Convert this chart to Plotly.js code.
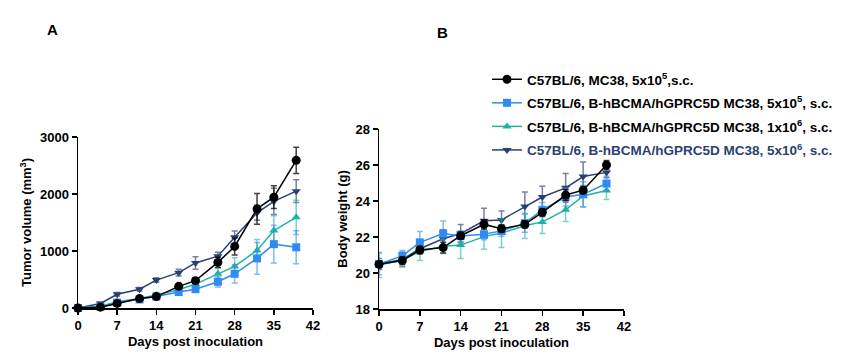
<!DOCTYPE html>
<html><head><meta charset="utf-8">
<script src="https://cdn.plot.ly/plotly-3.0.1.min.js"></script>
<style>body{margin:0;background:#fff}#chart{width:844px;height:361px}</style>
</head><body><div id="chart"></div>
<script>
const days = [0, 4, 7, 11, 14, 18, 21, 25, 28, 32, 35, 39];

const seriesNames = [
  'C57BL/6, MC38, 5x10<sup>5</sup>,s.c.',
  'C57BL/6, B-hBCMA/hGPRC5D MC38, 5x10<sup>5</sup>, s.c.',
  'C57BL/6, B-hBCMA/hGPRC5D MC38, 1x10<sup>6</sup>, s.c.',
  '<span style="color:#2B3F72">C57BL/6, B-hBCMA/hGPRC5D MC38, 5x10<sup>6</sup>, s.c.</span>'
];

// Panel A: tumor volume (mm3)
const volBlack = [0, 15, 80, 165, 200, 380, 480, 800, 1080, 1740, 1945, 2590];
const volBlue  = [0, 20, 95, 150, 200, 280, 330, 460, 600, 870, 1120, 1065];
const volTeal  = [0, 30, 110, 165, 230, 320, 420, 600, 730, 1010, 1360, 1590];
const volNavy  = [0, 80, 240, 330, 490, 620, 790, 910, 1240, 1670, 1870, 2050];
const volErrBlack = [0, 10, 20, 30, 30, 40, 50, 90, 150, 270, 200, 230];
const volErrBlue  = [0, 10, 20, 30, 30, 40, 50, 90, 160, 280, 330, 290];
const volErrTeal  = [0, 10, 20, 30, 40, 40, 60, 100, 150, 190, 260, 300];
const volErrNavy  = [0, 20, 30, 30, 40, 60, 110, 70, 110, 130, 230, 200];

// Panel B: body weight (g)
const bwBlack = [20.48, 20.69, 21.28, 21.41, 22.07, 22.7, 22.46, 22.7, 23.37, 24.33, 24.6, 26.0];
const bwBlue  = [20.5, 20.95, 21.7, 22.19, 22.05, 22.15, 22.34, 22.77, 23.51, 24.22, 24.37, 24.97];
const bwTeal  = [20.45, 20.7, 21.2, 21.48, 21.55, 22.02, 22.22, 22.62, 22.84, 23.51, 24.28, 24.58];
const bwNavy  = [20.5, 20.75, 21.35, 21.9, 22.19, 22.9, 22.95, 23.7, 24.22, 24.73, 25.36, 25.59];
const bwErrBlack = [0.2, 0.2, 0.2, 0.3, 0.2, 0.25, 0.2, 0.2, 0.2, 0.3, 0.2, 0.25];
const bwErrBlue  = [0.6, 0.3, 0.6, 0.7, 0.3, 0.3, 0.3, 0.5, 0.4, 0.5, 0.7, 0.4];
const bwErrTeal  = [0.7, 0.3, 0.5, 0.4, 0.75, 0.7, 0.8, 0.7, 0.65, 0.65, 0.6, 0.5];
const bwErrNavy  = [0.3, 0.4, 0.3, 0.5, 0.5, 0.7, 0.5, 0.8, 0.6, 0.8, 0.8, 0.3];

const colors = ['#000000', '#2F8BF2', '#1FB3A6', '#2B3F72'];
const errColors = ['rgba(0,0,0,0.75)', 'rgba(47,139,242,0.6)', 'rgba(31,179,166,0.6)', 'rgba(43,63,114,0.65)'];
const symbols = ['circle', 'square', 'triangle-up', 'triangle-down'];
const sizes = [9, 8, 8, 8];

const volData = [volBlack, volBlue, volTeal, volNavy];
const volErr = [volErrBlack, volErrBlue, volErrTeal, volErrNavy];
const bwData = [bwBlack, bwBlue, bwTeal, bwNavy];
const bwErr = [bwErrBlack, bwErrBlue, bwErrTeal, bwErrNavy];

const order = [3, 2, 1, 0]; // draw black on top
const traces = [];
order.forEach(i => {
  traces.push({
    x: days, y: volData[i], xaxis: 'x', yaxis: 'y', type: 'scatter', mode: 'lines+markers',
    name: seriesNames[i], showlegend: false, cliponaxis: false,
    line: {color: colors[i], width: 1.5},
    marker: {color: colors[i], symbol: symbols[i], size: sizes[i]},
    error_y: {type: 'data', array: volErr[i], visible: true, color: errColors[i], thickness: 1.5, width: 3}
  });
});
order.forEach(i => {
  traces.push({
    x: days, y: bwData[i], xaxis: 'x2', yaxis: 'y2', type: 'scatter', mode: 'lines+markers',
    name: seriesNames[i], showlegend: true, cliponaxis: false, legendrank: i + 1, legendgroup: 'g' + i,
    line: {color: colors[i], width: 1.5},
    marker: {color: colors[i], symbol: symbols[i], size: sizes[i]},
    error_y: {type: 'data', array: bwErr[i], visible: true, color: errColors[i], thickness: 1.5, width: 3}
  });
});

const fam = 'Liberation Sans, Arial, sans-serif';
const boldFont = (s) => ({family: fam, size: s, color: '#000', weight: 'bold'});
function axis(extra) {
  return Object.assign({
    showgrid: false, zeroline: false, showline: true, linecolor: '#000', linewidth: 1.5,
    ticks: 'outside', ticklen: 5, tickwidth: 1.5, tickcolor: '#000',
    tickfont: boldFont(13), fixedrange: true
  }, extra);
}

const layout = {
  width: 844, height: 361,
  margin: {l: 0, r: 0, t: 0, b: 0},
  paper_bgcolor: '#fff', plot_bgcolor: '#fff',
  font: {family: fam, size: 12, color: '#000'},
  showlegend: true,
  legend: {
    x: 487/844, y: 1 - 64/361, xanchor: 'left', yanchor: 'top',
    font: boldFont(13.5),
    bgcolor: 'rgba(0,0,0,0)', itemwidth: 30, tracegroupgap: 3, traceorder: 'grouped'
  },
  xaxis: axis({domain: [78/844, 313/844], range: [0, 42], tickvals: [0, 7, 14, 21, 28, 35, 42], anchor: 'y',
    title: {text: 'Days post inoculation', font: boldFont(13), standoff: 5}}),
  yaxis: axis({domain: [1 - 308/361, 1 - 137/361], range: [0, 3000], tickvals: [0, 1000, 2000, 3000], anchor: 'x',
    title: {text: 'Tumor volume (mm<sup>3</sup>)', font: boldFont(13), standoff: 5}}),
  xaxis2: axis({domain: [379/844, 624/844], range: [0, 42], tickvals: [0, 7, 14, 21, 28, 35, 42], anchor: 'y2',
    title: {text: 'Days post inoculation', font: boldFont(13), standoff: 5}}),
  yaxis2: axis({domain: [1 - 309/361, 1 - 129/361], range: [18, 28], tickvals: [18, 20, 22, 24, 26, 28], anchor: 'x2',
    title: {text: 'Body weight (g)', font: boldFont(13), standoff: 5}}),
  annotations: [
    {text: 'A', x: 52/844, y: 1 - 30/361, xref: 'paper', yref: 'paper', showarrow: false, xanchor: 'center', yanchor: 'middle',
      font: boldFont(15)},
    {text: 'B', x: 443/844, y: 1 - 32/361, xref: 'paper', yref: 'paper', showarrow: false, xanchor: 'center', yanchor: 'middle',
      font: boldFont(15)}
  ]
};

Plotly.newPlot('chart', traces, layout, {displayModeBar: false, staticPlot: true});
</script>
</body></html>
